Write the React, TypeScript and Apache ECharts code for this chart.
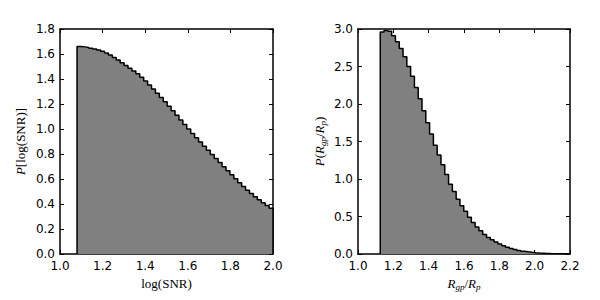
import React, { useEffect, useRef } from "react";
import * as echarts from "echarts";

// Histogram of log(SNR): 50 bins between these edges
const snrRange = [1.08, 2.0];
const snrValues = [
  1.66, 1.657, 1.652, 1.646, 1.64, 1.632, 1.622, 1.608, 1.592, 1.573,
  1.552, 1.53, 1.508, 1.487, 1.465, 1.443, 1.414, 1.384, 1.353, 1.32,
  1.287, 1.252, 1.218, 1.183, 1.147, 1.11, 1.073, 1.036, 1.0, 0.965,
  0.93, 0.896, 0.862, 0.83, 0.797, 0.765, 0.732, 0.699, 0.667, 0.634,
  0.602, 0.57, 0.54, 0.511, 0.484, 0.458, 0.434, 0.41, 0.388, 0.366,
];

// Histogram of R_gp/R_p: 50 bins between these edges
const ratioRange = [1.126, 2.2];
const ratioValues = [
  2.96, 2.98, 2.97, 2.91, 2.83, 2.74, 2.63, 2.5, 2.37, 2.22,
  2.07, 1.91, 1.75, 1.6, 1.45, 1.32, 1.19, 1.06, 0.93, 0.835,
  0.73, 0.645, 0.57, 0.49, 0.42, 0.36, 0.31, 0.26, 0.22, 0.19,
  0.16, 0.135, 0.11, 0.09, 0.075, 0.06, 0.048, 0.038, 0.03, 0.023,
  0.018, 0.014, 0.011, 0.008, 0.006, 0.005, 0.004, 0.003, 0.002, 0.001,
];

const leftXTicks = { min: 1.0, max: 2.0, interval: 0.2 };
const leftYTicks = { min: 0, max: 1.8, interval: 0.2 };
const rightXTicks = { min: 1.0, max: 2.2, interval: 0.2 };
const rightYTicks = { min: 0, max: 3.0, interval: 0.5 };

function stepData(range: number[], vals: number[]) {
  const w = (range[1] - range[0]) / vals.length;
  const d: number[][] = [[range[0], 0]];
  vals.forEach((v, i) => d.push([range[0] + i * w, v]));
  d.push([range[1], vals[vals.length - 1]]);
  d.push([range[1], 0]);
  return d;
}

const SANS = "DejaVu Sans";
const SERIF = "Liberation Serif";

const richStyles = {
  i: { fontFamily: SERIF, fontStyle: "italic", fontSize: 13, color: "#000" },
  r: { fontFamily: SERIF, fontSize: 13, color: "#000" },
  sub: { fontFamily: SERIF, fontStyle: "italic", fontSize: 9, color: "#000", padding: [7, 0, 0, 0] },
};

function mainAxis(gridIndex: number, ticks: any, extra: any) {
  return {
    type: "value",
    gridIndex,
    min: ticks.min,
    max: ticks.max,
    interval: ticks.interval,
    splitLine: { show: false },
    axisLine: { show: true, onZero: false, lineStyle: { color: "#000", width: 1.5 } },
    axisTick: { show: true, inside: true, length: 4, lineStyle: { color: "#000", width: 1 } },
    axisLabel: {
      show: true,
      fontFamily: SANS,
      fontSize: 12,
      color: "#000",
      formatter: (v: number) => v.toFixed(1),
    },
    ...extra,
  };
}

function sideAxis(gridIndex: number, ticks: any, position: string) {
  return {
    type: "value",
    gridIndex,
    position,
    min: ticks.min,
    max: ticks.max,
    interval: ticks.interval,
    splitLine: { show: false },
    axisLine: { show: true, onZero: false, lineStyle: { color: "#000", width: 1.5 } },
    axisTick: { show: true, inside: true, length: 4, lineStyle: { color: "#000", width: 1 } },
    axisLabel: { show: false },
  };
}

export default function App() {
  const ref = useRef<HTMLDivElement>(null);
  useEffect(() => {
    if (!ref.current) return;
    const chart = echarts.init(ref.current, null, { renderer: "svg" });
    chart.setOption({
      animation: false,
      backgroundColor: "#fff",
      grid: [
        { left: 60, top: 29, width: 213, height: 225 },
        { left: 358, top: 29, width: 212, height: 225 },
      ],
      xAxis: [
        mainAxis(0, leftXTicks, {
          position: "bottom",
          name: "log(SNR)",
          nameLocation: "middle",
          nameGap: 21,
          nameTextStyle: { fontFamily: SERIF, fontSize: 13, color: "#000" },
          axisLabel: { show: true, fontFamily: SANS, fontSize: 12, color: "#000", margin: 6, formatter: (v: number) => v.toFixed(1) },
        }),
        sideAxis(0, leftXTicks, "top"),
        mainAxis(1, rightXTicks, {
          position: "bottom",
          name: "{i|R}{sub|gp}{r|/}{i|R}{sub|p}",
          nameLocation: "middle",
          nameGap: 21,
          nameTextStyle: { fontFamily: SERIF, fontSize: 13, color: "#000", rich: richStyles },
          axisLabel: { show: true, fontFamily: SANS, fontSize: 12, color: "#000", margin: 6, formatter: (v: number) => v.toFixed(1) },
        }),
        sideAxis(1, rightXTicks, "top"),
      ],
      yAxis: [
        mainAxis(0, leftYTicks, {
          position: "left",
          name: "{i|P}{r|[log(SNR)]}",
          nameLocation: "middle",
          nameGap: 33,
          nameRotate: 90,
          nameTextStyle: { fontFamily: SERIF, fontSize: 13, color: "#000", rich: richStyles },
          axisLabel: { show: true, fontFamily: SANS, fontSize: 12, color: "#000", margin: 5, formatter: (v: number) => v.toFixed(1) },
        }),
        sideAxis(0, leftYTicks, "right"),
        mainAxis(1, rightYTicks, {
          position: "left",
          name: "{i|P}{r|(}{i|R}{sub|gp}{r|/}{i|R}{sub|p}{r|)}",
          nameLocation: "middle",
          nameGap: 31,
          nameRotate: 90,
          nameTextStyle: { fontFamily: SERIF, fontSize: 13, color: "#000", rich: richStyles },
          axisLabel: { show: true, fontFamily: SANS, fontSize: 12, color: "#000", margin: 5, formatter: (v: number) => v.toFixed(1) },
        }),
        sideAxis(1, rightYTicks, "right"),
      ],
      series: [
        {
          type: "line",
          xAxisIndex: 0,
          yAxisIndex: 0,
          step: "end",
          symbol: "none",
          data: stepData(snrRange, snrValues),
          lineStyle: { color: "#000", width: 1.5 },
          areaStyle: { color: "#808080", opacity: 1 },
          z: 1,
        },
        {
          type: "line",
          xAxisIndex: 2,
          yAxisIndex: 2,
          step: "end",
          symbol: "none",
          data: stepData(ratioRange, ratioValues),
          lineStyle: { color: "#000", width: 1.5 },
          areaStyle: { color: "#808080", opacity: 1 },
          z: 1,
        },
      ],
    });
    return () => chart.dispose();
  }, []);
  return (
    <div
      ref={ref}
      style={{ position: "fixed", left: 0, top: 0, width: 600, height: 300, background: "#fff" }}
    />
  );
}
